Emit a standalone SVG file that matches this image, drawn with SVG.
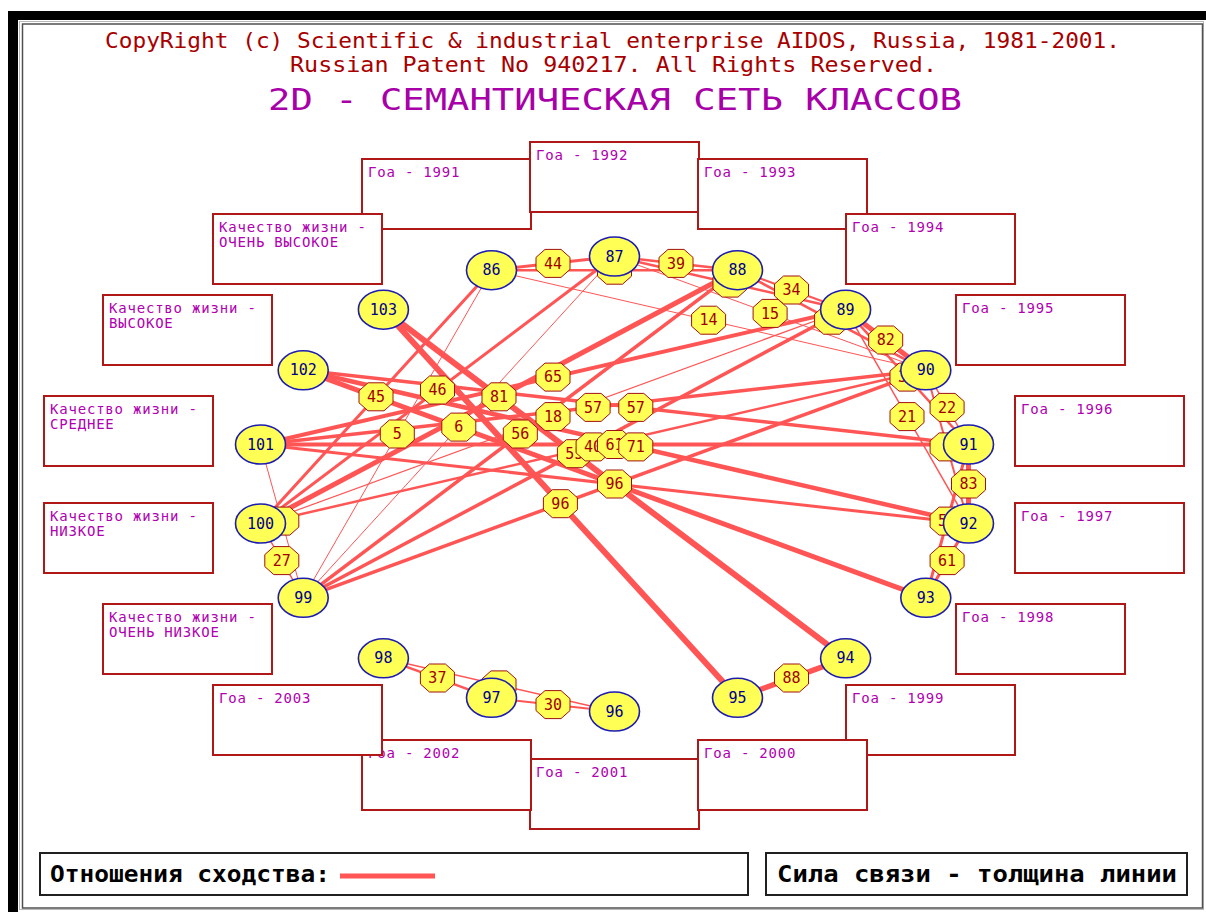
<svg xmlns="http://www.w3.org/2000/svg" xmlns:xlink="http://www.w3.org/1999/xlink" width="1206" height="912" viewBox="0 0 1206 912">
<style>
.t1{font-family:"DejaVu Sans Mono","Liberation Mono",monospace;font-size:22px;fill:#a80000;text-anchor:middle}
.t3{font-family:"DejaVu Sans Mono","Liberation Mono",monospace;font-size:30px;fill:#a800a8;text-anchor:middle}
.box rect{fill:#fff;stroke:#b01818;stroke-width:2}
.box text{font-family:"DejaVu Sans Mono","Liberation Mono",monospace;font-size:14px;fill:#b000b0;letter-spacing:0.8px}
.e line{stroke:#ff5555;stroke-linecap:round}
.lab use{fill:#ffff55;stroke:#a01010;stroke-width:1}
.lab text{font-family:"DejaVu Sans Mono","Liberation Mono",monospace;font-size:15px;fill:#a00000;text-anchor:middle}
.nd ellipse{fill:#ffff55;stroke:#1c1cb0;stroke-width:1.6}
.nd text{font-family:"DejaVu Sans Mono","Liberation Mono",monospace;font-size:15px;fill:#000090;text-anchor:middle}
.leg rect{fill:#fff;stroke:#202020;stroke-width:2}
.leg text{font-family:"DejaVu Sans Mono","Liberation Mono",monospace;font-size:23px;font-weight:bold;fill:#000}
</style>
<defs>
<path id="oct" d="M-8,-14 H8 L17,-6 V6 L8,14 H-8 L-17,6 V-6 Z"/>
</defs>
<rect width="1206" height="912" fill="#fff"/>
<path d="M8,11 H1206 V20 H18 V912 H8 Z" fill="#000"/>
<rect x="19.5" y="21.5" width="1184" height="888" fill="none" stroke="#b8b8b8" stroke-width="1"/>
<rect x="22.5" y="24" width="1180" height="884" fill="none" stroke="#505050" stroke-width="1.5"/>

<g id="title">
<text class="t1" x="612.5" y="48" textLength="1015" lengthAdjust="spacingAndGlyphs">CopyRight (c) Scientific &amp; industrial enterprise AIDOS, Russia, 1981-2001.</text>
<text class="t1" x="613.5" y="72" textLength="647" lengthAdjust="spacingAndGlyphs">Russian Patent No 940217. All Rights Reserved.</text>
<text class="t3" x="615" y="110" textLength="694" lengthAdjust="spacingAndGlyphs">2D - СЕМАНТИЧЕСКАЯ СЕТЬ КЛАССОВ</text>
</g>

<g id="boxes" class="box">
<g id="box-2001"><rect x="530" y="759" width="169" height="70"/><text x="536" y="777">Гоа - 2001</text></g>
<g id="box-1991"><rect x="362" y="159" width="169" height="70"/><text x="368" y="177">Гоа - 1991</text></g>
<g id="box-1992"><rect x="530" y="142" width="169" height="70"/><text x="536" y="160">Гоа - 1992</text></g>
<g id="box-1993"><rect x="698" y="159" width="169" height="70"/><text x="704" y="177">Гоа - 1993</text></g>
<g id="box-1994"><rect x="846" y="214" width="169" height="70"/><text x="852" y="232">Гоа - 1994</text></g>
<g id="box-1995"><rect x="956" y="295" width="169" height="70"/><text x="962" y="313">Гоа - 1995</text></g>
<g id="box-1996"><rect x="1015" y="396" width="169" height="70"/><text x="1021" y="414">Гоа - 1996</text></g>
<g id="box-1997"><rect x="1015" y="503" width="169" height="70"/><text x="1021" y="521">Гоа - 1997</text></g>
<g id="box-1998"><rect x="956" y="604" width="169" height="70"/><text x="962" y="622">Гоа - 1998</text></g>
<g id="box-1999"><rect x="846" y="685" width="169" height="70"/><text x="852" y="703">Гоа - 1999</text></g>
<g id="box-2000"><rect x="698" y="740" width="169" height="70"/><text x="704" y="758">Гоа - 2000</text></g>
<g id="box-2002"><rect x="362" y="740" width="169" height="70"/><text x="368" y="758">Гоа - 2002</text></g>
<g id="box-2003"><rect x="213" y="685" width="169" height="70"/><text x="219" y="703">Гоа - 2003</text></g>
<g id="box-kzh-ov"><rect x="213" y="214" width="169" height="70"/><text x="219" y="232">Качество жизни -</text><text x="219" y="247">ОЧЕНЬ ВЫСОКОЕ</text></g>
<g id="box-kzh-v"><rect x="103" y="295" width="169" height="70"/><text x="109" y="313">Качество жизни -</text><text x="109" y="328">ВЫСОКОЕ</text></g>
<g id="box-kzh-s"><rect x="44" y="396" width="169" height="70"/><text x="50" y="414">Качество жизни -</text><text x="50" y="429">СРЕДНЕЕ</text></g>
<g id="box-kzh-n"><rect x="44" y="503" width="169" height="70"/><text x="50" y="521">Качество жизни -</text><text x="50" y="536">НИЗКОЕ</text></g>
<g id="box-kzh-on"><rect x="103" y="604" width="169" height="70"/><text x="109" y="622">Качество жизни -</text><text x="109" y="637">ОЧЕНЬ НИЗКОЕ</text></g>
</g>

<g id="connectors" class="e">
<line x1="491.5" y1="270.2" x2="614.5" y2="256.5" stroke-width="3"/>
<line x1="614.5" y1="256.5" x2="737.5" y2="270.2" stroke-width="2.5"/>
<line x1="737.5" y1="270.2" x2="845.6" y2="309.7" stroke-width="2"/>
<line x1="845.6" y1="309.7" x2="925.8" y2="370.3" stroke-width="5"/>
<line x1="925.8" y1="370.3" x2="968.5" y2="444.5" stroke-width="1.5"/>
<line x1="968.5" y1="444.5" x2="968.5" y2="523.5" stroke-width="5"/>
<line x1="968.5" y1="523.5" x2="925.8" y2="597.8" stroke-width="3"/>
<line x1="845.6" y1="658.3" x2="737.5" y2="697.8" stroke-width="5.5"/>
<line x1="491.5" y1="697.8" x2="614.5" y2="711.5" stroke-width="2"/>
<line x1="383.4" y1="658.3" x2="491.5" y2="697.8" stroke-width="2.5"/>
<line x1="260.5" y1="523.5" x2="303.2" y2="597.8" stroke-width="1.5"/>
<line x1="491.5" y1="270.2" x2="737.5" y2="270.2" stroke-width="2.5"/>
<line x1="614.5" y1="256.5" x2="845.6" y2="309.7" stroke-width="2.5"/>
<line x1="737.5" y1="270.2" x2="925.8" y2="370.3" stroke-width="2.5"/>
<line x1="845.6" y1="309.7" x2="968.5" y2="444.5" stroke-width="2.5"/>
<line x1="925.8" y1="370.3" x2="968.5" y2="523.5" stroke-width="2"/>
<line x1="968.5" y1="444.5" x2="925.8" y2="597.8" stroke-width="3"/>
<line x1="383.4" y1="658.3" x2="614.5" y2="711.5" stroke-width="1.5"/>
<line x1="260.5" y1="444.5" x2="303.2" y2="597.8" stroke-width="1"/>
<line x1="491.5" y1="270.2" x2="925.8" y2="370.3" stroke-width="1"/>
<line x1="614.5" y1="256.5" x2="925.8" y2="370.3" stroke-width="1"/>
<line x1="845.6" y1="309.7" x2="968.5" y2="523.5" stroke-width="1.5"/>
<line x1="260.5" y1="523.5" x2="491.5" y2="270.2" stroke-width="3"/>
<line x1="260.5" y1="523.5" x2="614.5" y2="256.5" stroke-width="3"/>
<line x1="260.5" y1="523.5" x2="737.5" y2="270.2" stroke-width="5"/>
<line x1="260.5" y1="523.5" x2="845.6" y2="309.7" stroke-width="1.2"/>
<line x1="260.5" y1="523.5" x2="925.8" y2="370.3" stroke-width="2.5"/>
<line x1="260.5" y1="444.5" x2="845.6" y2="309.7" stroke-width="4"/>
<line x1="260.5" y1="444.5" x2="925.8" y2="370.3" stroke-width="3.5"/>
<line x1="260.5" y1="444.5" x2="968.5" y2="444.5" stroke-width="4"/>
<line x1="260.5" y1="444.5" x2="968.5" y2="523.5" stroke-width="3"/>
<line x1="303.2" y1="370.3" x2="968.5" y2="444.5" stroke-width="3.5"/>
<line x1="303.2" y1="370.3" x2="968.5" y2="523.5" stroke-width="4.5"/>
<line x1="303.2" y1="370.3" x2="925.8" y2="597.8" stroke-width="5"/>
<line x1="303.2" y1="597.8" x2="491.5" y2="270.2" stroke-width="1"/>
<line x1="303.2" y1="597.8" x2="614.5" y2="256.5" stroke-width="1"/>
<line x1="303.2" y1="597.8" x2="737.5" y2="270.2" stroke-width="3.5"/>
<line x1="303.2" y1="597.8" x2="845.6" y2="309.7" stroke-width="3.5"/>
<line x1="303.2" y1="597.8" x2="925.8" y2="370.3" stroke-width="3.5"/>
<line x1="383.4" y1="309.7" x2="737.5" y2="697.8" stroke-width="6"/>
<line x1="383.4" y1="309.7" x2="845.6" y2="658.3" stroke-width="6"/>
</g>

<g id="link-labels" class="lab">
<g><use href="#oct" x="553" y="263.4"/><text x="553" y="268.5">44</text></g>
<g><use href="#oct" x="676" y="263.4"/><text x="676" y="268.5">39</text></g>
<g><use href="#oct" x="614.5" y="270.2"/></g>
<g><use href="#oct" x="730" y="283.1"/></g>
<g><use href="#oct" x="791.5" y="290"/><text x="791.5" y="295">34</text></g>
<g><use href="#oct" x="708.6" y="320.2"/><text x="708.6" y="325.3">14</text></g>
<g><use href="#oct" x="770.1" y="313.4"/><text x="770.1" y="318.5">15</text></g>
<g><use href="#oct" x="831.6" y="320.2"/></g>
<g><use href="#oct" x="885.7" y="340"/><text x="885.7" y="345.1">82</text></g>
<g><use href="#oct" x="907" y="377.1"/><text x="902.5" y="382.2">3</text></g>
<g><use href="#oct" x="907" y="416.6"/><text x="907" y="421.7">21</text></g>
<g><use href="#oct" x="947.1" y="407.4"/><text x="947.1" y="412.5">22</text></g>
<g><use href="#oct" x="947.1" y="446.9"/></g>
<g><use href="#oct" x="968.5" y="484"/><text x="968.5" y="489.1">83</text></g>
<g><use href="#oct" x="947.1" y="521.1"/><text x="942.6" y="526.2">5</text></g>
<g><use href="#oct" x="947.1" y="560.6"/><text x="947.1" y="565.7">61</text></g>
<g><use href="#oct" x="791.5" y="678"/><text x="791.5" y="683.1">88</text></g>
<g><use href="#oct" x="553" y="704.6"/><text x="553" y="709.7">30</text></g>
<g><use href="#oct" x="437.4" y="678"/><text x="437.4" y="683.1">37</text></g>
<g><use href="#oct" x="499" y="684.9"/></g>
<g><use href="#oct" x="281.8" y="560.6"/><text x="281.8" y="565.7">27</text></g>
<g><use href="#oct" x="281.8" y="521.1"/></g>
<g><use href="#oct" x="376" y="396.8"/><text x="376" y="401.9">45</text></g>
<g><use href="#oct" x="437.5" y="390"/><text x="437.5" y="395.1">46</text></g>
<g><use href="#oct" x="499" y="396.8"/><text x="499" y="401.9">81</text></g>
<g><use href="#oct" x="553" y="377.1"/><text x="553" y="382.2">65</text></g>
<g><use href="#oct" x="593.1" y="407.4"/><text x="593.1" y="412.5">57</text></g>
<g><use href="#oct" x="635.8" y="407.4"/><text x="635.8" y="412.5">57</text></g>
<g><use href="#oct" x="553" y="416.6"/><text x="553" y="421.7">18</text></g>
<g><use href="#oct" x="458.8" y="427.1"/><text x="458.8" y="432.2">6</text></g>
<g><use href="#oct" x="397.3" y="434"/><text x="397.3" y="439.1">5</text></g>
<g><use href="#oct" x="520.3" y="434"/><text x="520.3" y="439.1">56</text></g>
<g><use href="#oct" x="574.4" y="453.7"/><text x="574.4" y="458.8">55</text></g>
<g><use href="#oct" x="593.1" y="446.9"/><text x="593.1" y="452">40</text></g>
<g><use href="#oct" x="614.5" y="444.5"/><text x="614.5" y="449.6">61</text></g>
<g><use href="#oct" x="635.8" y="446.9"/><text x="635.8" y="452">71</text></g>
<g><use href="#oct" x="560.4" y="503.7"/><text x="560.4" y="508.8">96</text></g>
<g><use href="#oct" x="614.5" y="484"/><text x="614.5" y="489.1">96</text></g>
</g>

<g id="nodes" class="nd">
<g id="n86"><ellipse cx="491.5" cy="270.2" rx="25" ry="19.5"/><text x="491.5" y="275.3">86</text></g>
<g id="n87"><ellipse cx="614.5" cy="256.5" rx="25" ry="19.5"/><text x="614.5" y="261.6">87</text></g>
<g id="n88"><ellipse cx="737.5" cy="270.2" rx="25" ry="19.5"/><text x="737.5" y="275.3">88</text></g>
<g id="n89"><ellipse cx="845.6" cy="309.7" rx="25" ry="19.5"/><text x="845.6" y="314.8">89</text></g>
<g id="n90"><ellipse cx="925.8" cy="370.3" rx="25" ry="19.5"/><text x="925.8" y="375.4">90</text></g>
<g id="n91"><ellipse cx="968.5" cy="444.5" rx="25" ry="19.5"/><text x="968.5" y="449.6">91</text></g>
<g id="n92"><ellipse cx="968.5" cy="523.5" rx="25" ry="19.5"/><text x="968.5" y="528.6">92</text></g>
<g id="n93"><ellipse cx="925.8" cy="597.8" rx="25" ry="19.5"/><text x="925.8" y="602.9">93</text></g>
<g id="n94"><ellipse cx="845.6" cy="658.3" rx="25" ry="19.5"/><text x="845.6" y="663.4">94</text></g>
<g id="n95"><ellipse cx="737.5" cy="697.8" rx="25" ry="19.5"/><text x="737.5" y="702.9">95</text></g>
<g id="n96"><ellipse cx="614.5" cy="711.5" rx="25" ry="19.5"/><text x="614.5" y="716.6">96</text></g>
<g id="n97"><ellipse cx="491.5" cy="697.8" rx="25" ry="19.5"/><text x="491.5" y="702.9">97</text></g>
<g id="n98"><ellipse cx="383.4" cy="658.3" rx="25" ry="19.5"/><text x="383.4" y="663.4">98</text></g>
<g id="n99"><ellipse cx="303.2" cy="597.8" rx="25" ry="19.5"/><text x="303.2" y="602.9">99</text></g>
<g id="n100"><ellipse cx="260.5" cy="523.5" rx="25" ry="19.5"/><text x="260.5" y="528.6">100</text></g>
<g id="n101"><ellipse cx="260.5" cy="444.5" rx="25" ry="19.5"/><text x="260.5" y="449.6">101</text></g>
<g id="n102"><ellipse cx="303.2" cy="370.3" rx="25" ry="19.5"/><text x="303.2" y="375.4">102</text></g>
<g id="n103"><ellipse cx="383.4" cy="309.7" rx="25" ry="19.5"/><text x="383.4" y="314.8">103</text></g>
</g>

<g id="legend" class="leg">
<rect x="40" y="853" width="708" height="42"/>
<text x="50" y="882" textLength="280" lengthAdjust="spacingAndGlyphs">Отношения сходства:</text>
<line x1="340" y1="876" x2="435" y2="876" stroke="#ff5555" stroke-width="5"/>
<rect x="766" y="853" width="421" height="42"/>
<text x="777" y="882" textLength="400" lengthAdjust="spacingAndGlyphs">Сила связи - толщина линии</text>
</g>
</svg>
